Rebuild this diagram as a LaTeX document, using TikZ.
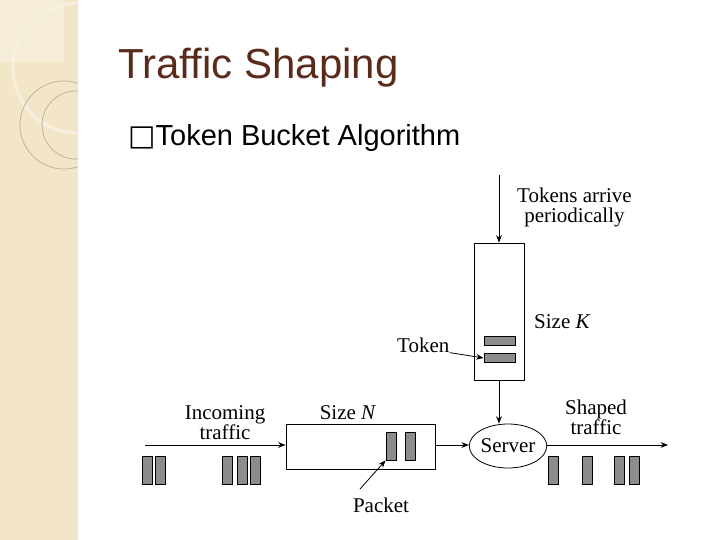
\documentclass[tikz,border=0pt]{standalone}
\usepackage{fontspec}
\setmainfont{Liberation Serif}
\setsansfont{Liberation Sans}
\newfontfamily\symfont{DejaVu Sans}
\usetikzlibrary{arrows.meta,shapes.geometric}
\tikzset{>={Stealth[width=2mm,length=2.6mm]}}
\definecolor{bandbg}{HTML}{F3E6C8}
\definecolor{titlebrown}{HTML}{5A2A1A}
\definecolor{pktgray}{HTML}{8C8C8C}

\begin{document}
\begin{tikzpicture}[x=1pt,y=-1pt]
  \tikzstyle{pkt} = [draw, thick, fill=pktgray]
  \tikzstyle{lbl} = [font=\fontsize{21}{20}\selectfont, inner sep=0pt, align=center]

  \useasboundingbox (0,0) rectangle (720,540);
  % side band
  \fill[bandbg] (0,0) rectangle (78,540);
  \begin{scope}
    \clip (0,0) rectangle (78,540);
    \fill[white, opacity=0.3] (0,0) rectangle (64,62);
    \draw[white!40!bandbg, line width=3pt] (78,68) circle (65);
    \draw[black!22!bandbg, line width=0.8pt] (64,125) circle (44);
    \draw[black!22!bandbg, line width=0.8pt] (76,125) circle (34);
  \end{scope}

  % titles
  \node[anchor=west, font=\sffamily\fontsize{42}{42}\selectfont, text=titlebrown] (title) at (115,68) {Traffic Shaping};
  \node[anchor=west, font=\sffamily\fontsize{29}{29}\selectfont, inner sep=0pt] (sub) at (128,138) {{\symfont\fontsize{29}{29}\selectfont □}Token Bucket Algorithm};

  % bucket
  \node[draw, thick, minimum width=50pt, minimum height=137pt, inner sep=0pt] (bucket) at (499,311.5) {};
  \node[pkt, minimum width=31pt, minimum height=9pt, inner sep=0pt] (tok1) at (499.5,340.5) {};
  \node[pkt, minimum width=31pt, minimum height=9pt, inner sep=0pt] (tok2) at (499.5,358) {};
  \coordinate (tin) at (499,175);
  \node[lbl, anchor=west] (tarr) at (517,207) {Tokens arrive\\periodically};
  \node[lbl, anchor=west] (sizek) at (534,322) {Size \textit{K}};
  \node[lbl, anchor=west] (toklbl) at (397,345) {Token};

  % queue and server
  \node[draw, thick, minimum width=149pt, minimum height=45pt, inner sep=0pt] (queue) at (360.5,446.5) {};
  \node[pkt, minimum width=10pt, minimum height=28pt, inner sep=0pt] (q1) at (391,446) {};
  \node[pkt, minimum width=10pt, minimum height=28pt, inner sep=0pt] (q2) at (410.5,446) {};
  \node[draw, thick, ellipse, minimum width=56pt, minimum height=44pt, inner sep=0pt, lbl] (server) at (508,446) {Server};
  \node[lbl] (sizen) at (348,413) {Size \textit{N}};
  \node[lbl] (inlbl) at (225,423) {Incoming\\traffic};
  \node[lbl] (outlbl) at (596,417) {Shaped\\traffic};
  \node[lbl] (pktlbl) at (381,505) {Packet};
  \coordinate (instart) at (145,445);
  \coordinate (outend) at (668,445);
  \coordinate (pkttail) at (360,489);

  % packets in flight
  \foreach \px in {147,160,227,242,255} {
    \node[pkt, minimum width=10pt, minimum height=28pt, inner sep=0pt] at (\px,470) {};
  }
  \foreach \px in {553,587,619,634} {
    \node[pkt, minimum width=10pt, minimum height=28pt, inner sep=0pt] at (\px,470) {};
  }

  % connectors
  \draw[->, thick] (tin) -- (bucket.north);
  \draw[->, thick] (bucket.south) -- (server.north -| bucket.south);
  \draw[->, thick] (toklbl.south east) -- (tok2.west);
  \draw[->, thick] (instart) -- (queue.west |- instart);
  \draw[->, thick] (queue.east |- instart) -- (server.west |- instart);
  \draw[->, thick] (server.east |- instart) -- (outend);
  \draw[->, thick] (pkttail) -- (q1.south west);
\end{tikzpicture}
\end{document}
